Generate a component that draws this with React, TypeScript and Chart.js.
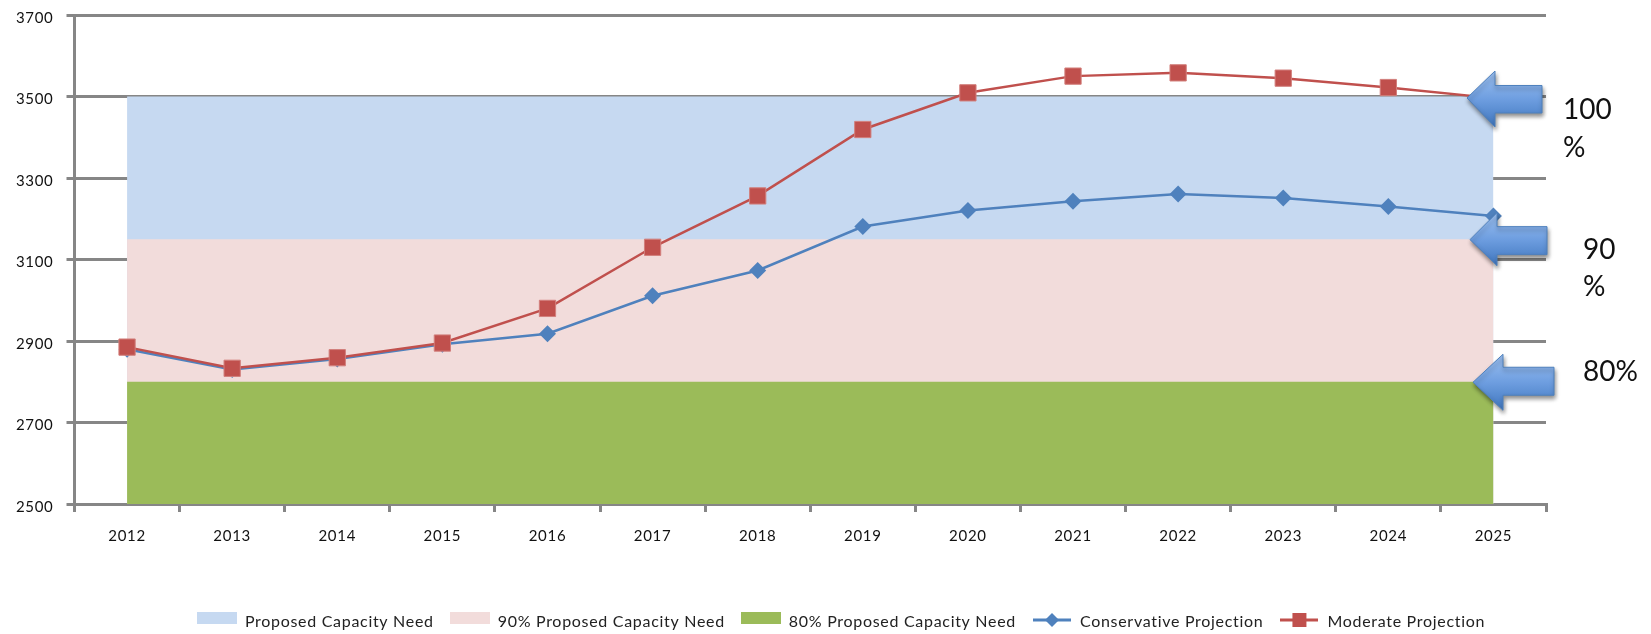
import React, { useEffect, useRef } from "react";
import { Chart, registerables } from "chart.js";

Chart.register(...registerables);

const years = ["2012","2013","2014","2015","2016","2017","2018","2019","2020","2021","2022","2023","2024","2025"];
const yTicks = [2500,2700,2900,3100,3300,3500,3700];
const fullCapacity = [3500,3500,3500,3500,3500,3500,3500,3500,3500,3500,3500,3500,3500,3500];
const ninetyCapacity = [3150,3150,3150,3150,3150,3150,3150,3150,3150,3150,3150,3150,3150,3150];
const eightyCapacity = [2800,2800,2800,2800,2800,2800,2800,2800,2800,2800,2800,2800,2800,2800];
const conservative = [2880,2830,2856,2892,2918,3011,3073,3181,3220,3243,3261,3251,3230,3207];
const moderate = [2885,2833,2859,2895,2980,3130,3256,3419,3509,3550,3558,3545,3522,3496];

const FONT = "Lato, 'Open Sans', sans-serif";
const GREY = "#868686";

function swatch(color: string) {
  const c = document.createElement("canvas");
  c.width = 40; c.height = 20;
  const x = c.getContext("2d")!;
  x.fillStyle = color; x.fillRect(0, 0, 40, 12);
  return c;
}
function lineKey(color: string, shape: "diamond" | "square") {
  const c = document.createElement("canvas");
  c.width = 38; c.height = 18;
  const x = c.getContext("2d")!;
  x.fillStyle = color;
  x.fillRect(0, 5.5, 38, 3);
  if (shape === "square") x.fillRect(12, 0, 14, 14);
  else { x.beginPath(); x.moveTo(19, 0); x.lineTo(26, 7); x.lineTo(19, 14); x.lineTo(12, 7); x.closePath(); x.fill(); }
  return c;
}

function drawArrow(ctx: CanvasRenderingContext2D, tipX: number, tipY: number, headW: number, headUp: number, headDown: number, shaftTop: number, shaftBottom: number, endX: number) {
  ctx.save();
  ctx.shadowColor = "rgba(0,0,0,0.45)";
  ctx.shadowBlur = 4; ctx.shadowOffsetX = 1; ctx.shadowOffsetY = 3;
  const g = ctx.createLinearGradient(0, tipY - headUp, 0, tipY + headDown);
  g.addColorStop(0, "#9CC0F0"); g.addColorStop(0.5, "#6E9EE0"); g.addColorStop(1, "#3F76BE");
  ctx.fillStyle = g;
  ctx.strokeStyle = "#4F81BD";
  ctx.lineWidth = 1;
  ctx.beginPath();
  ctx.moveTo(tipX, tipY);
  ctx.lineTo(tipX + headW, tipY - headUp);
  ctx.lineTo(tipX + headW, tipY + shaftTop);
  ctx.lineTo(endX, tipY + shaftTop);
  ctx.lineTo(endX, tipY + shaftBottom);
  ctx.lineTo(tipX + headW, tipY + shaftBottom);
  ctx.lineTo(tipX + headW, tipY + headDown);
  ctx.closePath();
  ctx.fill();
  ctx.stroke();
  ctx.restore();
}

const calloutPlugin = {
  id: "callouts",
  beforeLayout(chart: any) {
    chart.ctx.letterSpacing = "0.7px";
  },
  afterLayout(chart: any) {
    chart.legend.left += 68;
    chart.legend.right += 68;
    chart.legend.top += 8;
    chart.legend.bottom += 8;
  },
  afterDatasetsDraw(chart: any) {
    const { ctx, scales: { y }, chartArea: { right } } = chart;
    drawArrow(ctx, right - 79, y.getPixelForValue(3500) + 1.5, 28, 27, 29, -12.5, 15, right - 4);
    drawArrow(ctx, right - 76, y.getPixelForValue(3150) + 0.5, 27, 27, 26, -13, 15, right + 1);
    drawArrow(ctx, right - 73, y.getPixelForValue(2800) + 0.5, 30, 28, 28, -15, 13, right + 8);
    ctx.save();
    ctx.letterSpacing = "0px";
    ctx.fillStyle = "#111";
    ctx.font = `28px ${FONT}`;
    ctx.textBaseline = "middle";
    ctx.textAlign = "left";
    ctx.fillText("100", right + 17, 110);
    ctx.fillText("%", right + 17, 148);
    ctx.fillText("90", right + 37, 250);
    ctx.fillText("%", right + 37, 287);
    ctx.fillText("80%", right + 37, 372);
    ctx.restore();
  },
};

export default function App() {
  const ref = useRef<HTMLCanvasElement>(null);
  useEffect(() => {
    const keys = [
      swatch("#C6D9F1"), swatch("#F2DCDB"), swatch("#9BBB59"),
      lineKey("#4F81BD", "diamond"), lineKey("#C0504D", "square"),
    ];
    const area = (label: string, data: number[], color: string, order: number) => ({
      label, data, order,
      backgroundColor: color, borderColor: color, borderWidth: 0,
      fill: "origin", pointRadius: 0,
    });
    const chart = new Chart(ref.current!, {
      type: "line",
      data: {
        labels: years,
        datasets: [
          area("Proposed Capacity Need", fullCapacity, "#C6D9F1", 5),
          area("90% Proposed Capacity Need", ninetyCapacity, "#F2DCDB", 4),
          area("80% Proposed Capacity Need", eightyCapacity, "#9BBB59", 3),
          {
            label: "Conservative Projection", data: conservative, order: 2,
            borderColor: "#4F81BD", backgroundColor: "#4F81BD", borderWidth: 2.5,
            pointStyle: "rectRot", pointRadius: 8.5, pointBackgroundColor: "#4F81BD", pointBorderColor: "#4F81BD", pointBorderWidth: 0,
            fill: false, tension: 0,
          },
          {
            label: "Moderate Projection", data: moderate, order: 1,
            borderColor: "#C0504D", backgroundColor: "#C0504D", borderWidth: 2.5,
            pointStyle: "rect", pointRadius: 11.5, pointBackgroundColor: "#C0504D", pointBorderColor: "#D27F7C", pointBorderWidth: 1,
            fill: false, tension: 0,
          },
        ],
      } as any,
      options: {
        animation: false,
        responsive: false,
        layout: { padding: { left: 0, right: 105, top: 15, bottom: 2 } },
        plugins: {
          tooltip: { enabled: false },
          title: { display: false },
          legend: {
            display: true,
            position: "bottom",
            onClick: () => {},
            labels: {
              usePointStyle: true,
              pointStyleWidth: 40,
              padding: 16,
              color: "#222",
              font: { family: FONT, size: 16 },
              generateLabels: (c: any) =>
                c.data.datasets.map((d: any, i: number) => ({
                  text: d.label, pointStyle: keys[i], datasetIndex: i,
                  fillStyle: "transparent", strokeStyle: "transparent", lineWidth: 0, fontColor: "#222",
                })),
            },
          },
        },
        scales: {
          x: {
            type: "category",
            offset: true,
            afterFit: (s: any) => { s.height = 86; },
            border: { display: true, color: GREY, width: 3 },
            grid: { display: true, offset: true, drawOnChartArea: false, drawTicks: true, tickLength: 8, color: GREY, lineWidth: 3 },
            ticks: { color: "#111", font: { family: FONT, size: 15 }, padding: 15, maxRotation: 0 },
          },
          y: {
            min: yTicks[0], max: yTicks[yTicks.length - 1],
            afterFit: (s: any) => { s.width = 74.5; s.paddingTop = 0; s.paddingBottom = 0; },
            border: { display: true, color: GREY, width: 3 },
            grid: { color: GREY, lineWidth: 3, drawTicks: true, tickLength: 8 },
            ticks: {
              stepSize: 200, color: "#111", font: { family: FONT, size: 15 }, padding: 13, labelOffset: 3,
              callback: (v: any) => String(v),
            },
          },
        },
      } as any,
      plugins: [calloutPlugin],
    });
    return () => chart.destroy();
  }, []);
  return (
    <div style={{ position: "absolute", left: 0, top: 0, width: 1651, height: 634, background: "#fff" }}>
      <canvas ref={ref} width={1651} height={634} style={{ display: "block" }} />
    </div>
  );
}
